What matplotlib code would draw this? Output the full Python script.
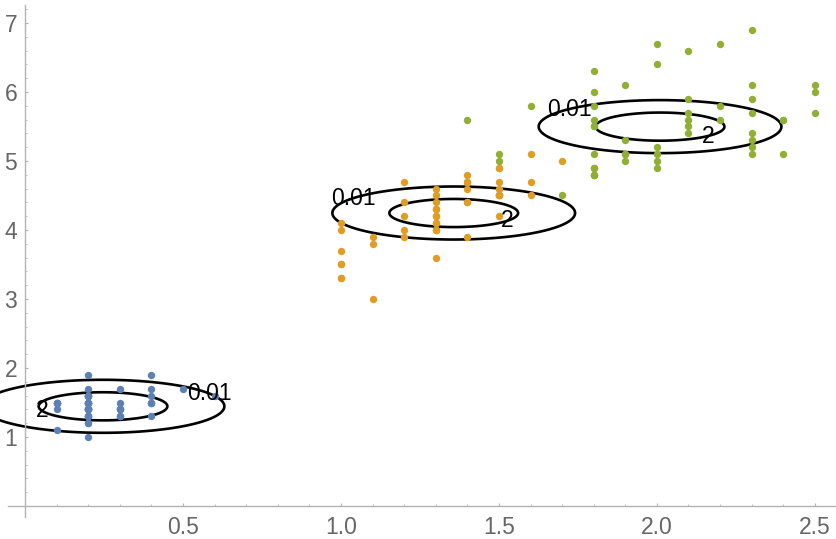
import numpy as np
import matplotlib
matplotlib.use("Agg")
import matplotlib.pyplot as plt

plt.rcParams['font.family'] = ['Liberation Sans', 'DejaVu Sans']

# iris petal width (x) / petal length (y) per species
setosa_w = [0.2, 0.2, 0.2, 0.2, 0.2, 0.4, 0.3, 0.2, 0.2, 0.1, 0.2, 0.2, 0.1, 0.1, 0.2, 0.4, 0.4,
            0.3, 0.3, 0.3, 0.2, 0.4, 0.2, 0.5, 0.2, 0.2, 0.4, 0.2, 0.2, 0.2, 0.2, 0.4, 0.1, 0.2,
            0.1, 0.2, 0.2, 0.1, 0.2, 0.2, 0.3, 0.3, 0.2, 0.6, 0.4, 0.3, 0.2, 0.2, 0.2, 0.2]
setosa_l = [1.4, 1.4, 1.3, 1.5, 1.4, 1.7, 1.4, 1.5, 1.4, 1.5, 1.5, 1.6, 1.4, 1.1, 1.2, 1.5, 1.3,
            1.4, 1.7, 1.5, 1.7, 1.5, 1.0, 1.7, 1.9, 1.6, 1.6, 1.5, 1.4, 1.6, 1.6, 1.5, 1.5, 1.4,
            1.5, 1.2, 1.3, 1.5, 1.3, 1.5, 1.3, 1.3, 1.3, 1.6, 1.9, 1.4, 1.6, 1.4, 1.5, 1.4]
versi_w = [1.4, 1.5, 1.5, 1.3, 1.5, 1.3, 1.6, 1.0, 1.3, 1.4, 1.0, 1.5, 1.0, 1.4, 1.3, 1.4, 1.5,
           1.0, 1.5, 1.1, 1.8, 1.3, 1.5, 1.2, 1.3, 1.4, 1.4, 1.7, 1.5, 1.0, 1.1, 1.0, 1.2, 1.6,
           1.5, 1.6, 1.5, 1.3, 1.3, 1.3, 1.2, 1.4, 1.2, 1.0, 1.3, 1.2, 1.3, 1.3, 1.1, 1.3]
versi_l = [4.7, 4.5, 4.9, 4.0, 4.6, 4.5, 4.7, 3.3, 4.6, 3.9, 3.5, 4.2, 4.0, 4.7, 3.6, 4.4, 4.5,
           4.1, 4.5, 3.9, 4.8, 4.0, 4.9, 4.7, 4.3, 4.4, 4.8, 5.0, 4.5, 3.5, 3.8, 3.7, 3.9, 5.1,
           4.5, 4.5, 4.7, 4.4, 4.1, 4.0, 4.4, 4.6, 4.0, 3.3, 4.2, 4.2, 4.2, 4.3, 3.0, 4.1]
virg_w = [2.5, 1.9, 2.1, 1.8, 2.2, 2.1, 1.7, 1.8, 1.8, 2.5, 2.0, 1.9, 2.1, 2.0, 2.4, 2.3, 1.8,
          2.2, 2.3, 1.5, 2.3, 2.0, 2.0, 1.8, 2.1, 1.8, 1.8, 1.8, 2.1, 1.6, 1.9, 2.0, 2.2, 1.5,
          1.4, 2.3, 2.4, 1.8, 1.8, 2.1, 2.4, 2.3, 1.9, 2.3, 2.5, 2.3, 1.9, 2.0, 2.3, 1.8]
virg_l = [6.0, 5.1, 5.9, 5.6, 5.8, 6.6, 4.5, 6.3, 5.8, 6.1, 5.1, 5.3, 5.5, 5.0, 5.1, 5.3, 5.5,
          6.7, 6.9, 5.0, 5.7, 4.9, 6.7, 4.9, 5.7, 6.0, 4.8, 4.9, 5.6, 5.8, 6.1, 6.4, 5.6, 5.1,
          5.6, 6.1, 5.6, 5.5, 4.8, 5.4, 5.6, 5.1, 5.1, 5.9, 5.7, 5.2, 5.0, 5.2, 5.4, 5.1]

# fitted density components (centres)
comp_x = [0.247, 1.357, 2.010]
comp_y = [1.445, 4.246, 5.498]
comp_sigma = 0.1
levels = [0.01, 2]
level_fmt = {0.01: '0.01', 2: '2'}

colors = ['#5E81B5', '#E19C24', '#8FB032']

fig = plt.figure(figsize=(8.37, 5.39), dpi=100)
ax = fig.add_axes([0, 0, 1, 1])
ax.set_xlim(-0.079, 2.57)
ax.set_ylim(-0.478, 7.333)

for xs, ys, c in zip([setosa_w, versi_w, virg_w], [setosa_l, versi_l, virg_l], colors):
    ax.plot(xs, ys, 'o', color=c, markersize=5.3, markeredgewidth=0, zorder=3)

gx = np.linspace(-0.3, 2.8, 700)
gy = np.linspace(-0.6, 7.5, 1400)
X, Y = np.meshgrid(gx, gy)
Z = np.zeros_like(X)
for cx, cy in zip(comp_x, comp_y):
    Z += np.exp(-((X - cx) ** 2 + (Y - cy) ** 2) / (2 * comp_sigma ** 2)) / (2 * np.pi * comp_sigma ** 2)

cs = ax.contour(X, Y, Z, levels=levels, colors='black', linewidths=1.9, zorder=2)
lbls = ax.clabel(cs, inline=False, fmt=level_fmt, fontsize=16.5, colors='black',
                 manual=[(0.053, 1.367), (0.585, 1.64), (1.038, 4.483), (1.524, 4.145),
                         (1.722, 5.768), (2.162, 5.352)])
for t in lbls:
    t.set_rotation(0)
    t.set_zorder(4)

# Mathematica-style axes through the origin
for s in ['top', 'right']:
    ax.spines[s].set_visible(False)
ax.spines['left'].set_position(('data', 0))
ax.spines['bottom'].set_position(('data', 0))
ax.spines['left'].set_bounds(-0.16, 7.26)
ax.spines['bottom'].set_bounds(-0.054, 2.57)
for s in ['left', 'bottom']:
    ax.spines[s].set_color('#b3b3b3')
    ax.spines[s].set_linewidth(1.0)

ax.set_xticks([0.5, 1.0, 1.5, 2.0, 2.5])
ax.set_xticklabels(['0.5', '1.0', '1.5', '2.0', '2.5'])
ax.set_yticks([1, 2, 3, 4, 5, 6, 7])
ax.set_xticks([v / 10 for v in range(-0, 26) if v % 5 != 0], minor=True)
ax.set_yticks([v / 5 for v in range(0, 37) if v % 5 != 0], minor=True)
ax.tick_params(which='both', direction='in', color='#b3b3b3', labelcolor='#666666',
               labelsize=16.5)
ax.tick_params(which='major', length=2.5, width=0.8)
ax.tick_params(which='minor', length=1.5, width=0.6)
ax.tick_params(axis='x', which='major', pad=7)
ax.tick_params(axis='y', which='major', pad=5.5)

fig.savefig('out.png', dpi=100)
